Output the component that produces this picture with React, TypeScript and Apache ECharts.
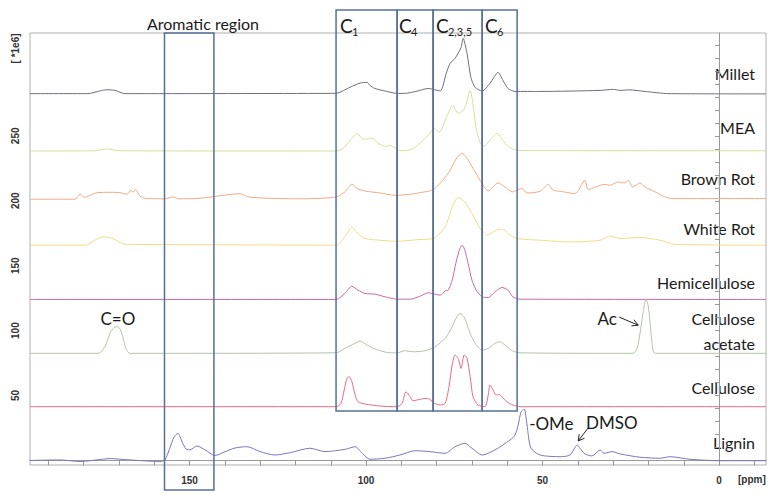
import React, { useEffect, useRef } from 'react';
import * as echarts from 'echarts';

// ---- data: [ppm, intensity (*1e6)] ----
const seriesNames = ['Millet', 'MEA', 'Brown Rot', 'White Rot', 'Hemicellulose', 'Cellulose acetate', 'Cellulose', 'Lignin'];
const seriesColors = ['#6e6e80', '#d4e09a', '#eeab86', '#f5da86', '#cc68a4', '#b0c5a8', '#e66a84', '#7878bc'];

const millet = [
  [195.2, 282.5], [178.8, 282.5], [175.4, 284.6], [173.4, 285.5], [171.1, 285], [168.3, 282.5],
  [110.2, 282.7], [108.2, 282.9], [104.5, 287.5], [101.7, 290.6], [99.7, 291.2], [98.9, 288.8],
  [97.5, 286.5], [94.6, 284.5], [91.2, 282.7], [89, 282.7], [85.3, 284.6], [82.4, 286.5], [81, 285.8],
  [79, 284.6], [77.3, 298], [76.2, 305.8], [74.8, 309.6], [73.1, 318], [72.5, 325], [71.4, 313.5],
  [70.3, 295], [69.1, 287.3], [67.1, 284.5], [64.9, 290.4], [62.6, 298.8], [61.2, 292.7], [59.8, 286.5],
  [57.8, 284.2], [50.7, 284.2], [33.7, 285], [30, 285.8], [28, 285], [25.5, 285.4], [21, 284.2],
  [14.2, 282.5], [-13.3, 282.3],
];

const mea = [
  [195.2, 238.3], [176.8, 238.5], [173.4, 240], [169.7, 238.5], [108.8, 238.3], [106.8, 239.6],
  [104.5, 246.5], [102.5, 251.9], [100.8, 247.3], [99.2, 248], [98.3, 248.3], [96.6, 244.2], [94.3, 241.9],
  [93.2, 242.7], [91.8, 240.8], [90.4, 238.5], [87, 239.6], [83.9, 246.5], [81.9, 251.9], [80.7, 255.8],
  [79.3, 252.9], [77.1, 265], [75.4, 273.5], [73.9, 267.3], [72.5, 269.6], [71.7, 274.2], [70.5, 285],
  [69.7, 273.5], [68.8, 255.8], [67.7, 245], [66.6, 241.9], [64.9, 246.5], [62.9, 251.9], [61.2, 246.5],
  [59.8, 241.9], [57.8, 239.2], [53.5, 238.6], [-13.3, 238.5],
];

const brownRot = [
  [195.2, 201.2], [182.4, 201.2], [181, 205.4], [179.9, 202.7], [178.8, 203.5], [176.2, 206.2],
  [172.5, 206.5], [169.7, 206.2], [167.7, 205], [166.6, 208.1], [166, 206.5], [165.4, 208.8], [164, 203.5],
  [162.6, 201.9], [156.9, 201.5], [154.7, 203], [153.3, 201.5], [147, 201.9], [135.7, 205.4], [132.9, 202.7],
  [118.7, 201.5], [108.5, 202.9], [106, 206.8], [104, 212.7], [102.5, 209.4], [100.3, 207.5], [96, 206],
  [91.8, 204.2], [87.5, 205], [83.3, 206.9], [81, 208.5], [78.5, 215], [76.2, 223.5], [74.2, 233.5],
  [72.8, 236.5], [71.4, 232.7], [69.7, 225], [67.7, 215.8], [65.4, 207.7], [62.6, 213.7], [60.6, 210.6],
  [58.6, 206.8], [56.9, 208.5], [55.8, 209.4], [54.4, 206], [50.7, 207.3], [48.4, 212.7], [47, 208.1],
  [45, 207.3], [40.8, 205.5], [38, 215.8], [37.1, 208.6], [35.1, 210.6], [32.3, 212.7], [30.9, 211.9],
  [28.6, 214.5], [26.6, 213.7], [25.8, 215.8], [24.4, 210.6], [22.4, 213.7], [21, 210.6], [18.1, 206.8],
  [15.3, 202.9], [13.3, 201.7], [-13.3, 201.7],
];

const whiteRot = [
  [195.2, 165.8], [179.6, 165.8], [176.8, 169.6], [174.5, 172.2], [172, 171.2], [168.3, 166.5],
  [147, 166.2], [108.5, 165.8], [106, 172.2], [104, 179.8], [102.5, 175.2], [100.3, 170.9], [96, 169.6],
  [91.2, 168.8], [84.7, 170.2], [81, 170.9], [77.6, 179.8], [75.6, 195.2], [73.9, 202.5], [72, 199.1],
  [70, 190.2], [67.7, 178.6], [65.7, 173.5], [63.5, 176.8], [62, 178.1], [60.6, 177.3], [59.2, 173.5],
  [57.2, 170.9], [50.7, 169.6], [42.2, 168.3], [33.7, 169.6], [30.9, 172.7], [28, 170.9], [22.4, 171.7],
  [16.7, 169.6], [12.5, 166.5], [-13.3, 165.8],
];

const hemicellulose = [
  [195.2, 124], [108.5, 124], [106, 128.6], [104, 134.2], [102.3, 131.2], [100.3, 128.6], [97.5, 128.1],
  [94.6, 126], [91.2, 124.2], [87.5, 124.2], [84.7, 126.5], [82.4, 129.1], [80.5, 128.1], [79, 127.3],
  [77.6, 130.5], [76.7, 131.2], [75.6, 138.8], [74.5, 152.7], [73.4, 163.5], [72.8, 165.8], [72, 161.9],
  [71.1, 151.9], [70, 138.8], [68.8, 131.2], [67.1, 126], [65.4, 125.5], [63.5, 129.8], [61.5, 133.2],
  [59.8, 131.2], [58.4, 126], [56.4, 124.2], [-13.3, 124],
];

const celluloseAcetate = [
  [195.2, 82.5], [175.9, 82.5], [173.9, 88.1], [172.5, 98.1], [171.4, 102.3], [170.5, 103.1], [169.7, 101.2],
  [168.8, 94.2], [168, 85.8], [166.9, 82.5], [108.5, 82.9], [106, 86.3], [103.1, 90.2], [101.7, 91.9],
  [99.7, 88.8], [96.6, 85], [93.2, 82.9], [91.2, 82.9], [89, 84.5], [86.7, 83.7], [83.3, 84.5], [80.5, 87.5],
  [77.6, 94], [75.6, 102.9], [74.5, 109.6], [73.4, 113.2], [72.2, 110.4], [70.5, 97.8], [69.1, 90.2],
  [67.1, 85], [65.4, 86.3], [63.5, 90.2], [62, 91.4], [60.6, 88.8], [58.6, 84.5], [56.4, 82.9], [24.4, 82.5],
  [23.2, 86.5], [22.4, 97.8], [21.5, 114.2], [20.7, 124], [20.1, 119.6], [19.5, 105.5], [19, 91.2],
  [18.1, 82.5], [-13.3, 82.5],
];

const cellulose = [
  [195.2, 41.4], [108.5, 41.4], [107.1, 44], [106.2, 54.2], [105.4, 63.2], [104.8, 64.5], [104, 60.6],
  [103.1, 50.4], [102.3, 45.2], [100.3, 43.5], [96, 41.9], [91.2, 41.4], [89.8, 44], [88.7, 52.9],
  [87.5, 49.1], [86.7, 46], [84.7, 47.1], [83.3, 47.8], [81.9, 47.1], [81, 44.5], [79, 42.7], [77.6, 44],
  [76.5, 56.8], [75.6, 73.5], [74.8, 81.2], [73.9, 78.6], [73.1, 70.9], [72.2, 81.2], [71.4, 78.6],
  [70.5, 64.5], [69.7, 49.1], [68.3, 42.7], [66.3, 41.4], [65.4, 50.4], [64.9, 58.1], [64, 54.2],
  [63.2, 50.4], [62.3, 50.9], [61.5, 49.1], [60.1, 45.2], [58.4, 42.7], [56.4, 41.4], [-13.3, 41.4],
];

const lignin = [
  [195.2, 0], [186.7, 0.4], [181, -0.8], [172.5, 1.4], [166.9, 0.4], [158.4, -0.8], [157, 0.4], [155.6, 9.4],
  [154.4, 18.1], [153.3, 20.9], [152.1, 14.2], [151, 8.8], [149.9, 8.1], [147.9, 11.2], [145.6, 8.1],
  [142.8, 3.8], [139.9, 6.8], [137.1, 9.6], [133.7, 10.6], [130, 6.8], [125.8, 4.2], [121.5, 6], [115.9, 9.4],
  [111.6, 6.8], [105.9, 8.6], [103.1, 10.6], [101.1, 5.5], [98.9, 0.9], [94.6, 1.7], [90.4, 4.2], [86.1, 7.5],
  [81.9, 6.8], [77.6, 5.5], [74.8, 10.6], [72, 13.2], [70, 9.4], [67.1, 4.2], [63.5, 8.1], [59.2, 15.8],
  [57.8, 19.6], [56.9, 27.3], [56.1, 37.3], [55.2, 39.6], [54.4, 27.3], [53.3, 9.6], [50.7, 4.2], [45, 2.9],
  [42.2, 4.2], [40.2, 11.9], [39.4, 9.4], [38, 5], [36, 3.5], [33.7, 8.1], [32.6, 5.5], [30.3, 6.8], [28, 5],
  [22.4, 2.5], [16.7, 1.7], [13.9, 2.9], [8.2, 0.9], [-0.3, -0.2], [-13.3, -0.2],
];

const allSeries = [millet, mea, brownRot, whiteRot, hemicellulose, celluloseAcetate, cellulose, lignin];

// boxes: [ppmLeft, ppmRight, top, bottom]
const boxes = [
  [157.1, 143.1, 329.2, -22.7],
  [108.5, 91.2, 347, 38],
  [91.2, 81, 347, 38],
  [81, 67.1, 347, 38],
  [67.1, 57.2, 347, 38],
];

const xTicks = [-10, 0, 10, 20, 30, 40, 50, 60, 70, 80, 90, 100, 110, 120, 130, 140, 150, 160, 170, 180, 190];
const xLabels = [0, 50, 100, 150];
const yTicks = [0, 10, 20, 30, 40, 50, 60, 70, 80, 90, 100, 110, 120, 130, 140, 150, 160, 170, 180, 190, 200, 210, 220, 230, 240, 250, 260, 270, 280, 290, 300, 310, 320];
const yLabels = [50, 100, 150, 200, 250];

// right-side sample labels: [text, ppm (right edge), value]
const sampleLabels: [string, number, number][] = [
  ['Millet', -10.2, 298.1],
  ['MEA', -10.2, 256.5],
  ['Brown Rot', -10.2, 217.3],
  ['White Rot', -10.2, 178.8],
  ['Hemicellulose', -10.2, 137.3],
  ['Cellulose', -10.2, 109.6],
  ['acetate', -10.2, 90.4],
  ['Cellulose', -10.2, 56.5],
  ['Lignin', -10.2, 13.5],
];

// box labels: [main, sub, ppm(left), value]
const boxLabels: [string, string, number, number][] = [
  ['C', '1', 107.4, 335],
  ['C', '4', 90.7, 335],
  ['C', '2,3,5', 80.2, 335],
  ['C', '6', 66.3, 335],
];

export default function App() {
  const ref = useRef<HTMLDivElement>(null);
  useEffect(() => {
    document.body.style.margin = '0';
    if (!ref.current) return;
    const chart = echarts.init(ref.current, undefined, { renderer: 'svg' });
    const axisFont = { fontFamily: 'Liberation Sans, Arial, sans-serif', fontSize: 10, fontWeight: 'bold' as const, color: '#333' };
    const lineSeries = allSeries.map((d, i) => ({
      name: seriesNames[i],
      type: 'line' as const,
      data: d,
      showSymbol: false,
      smooth: 0.25,
      lineStyle: { width: 1, color: seriesColors[i] },
      z: 2,
    }));
    chart.setOption({
      animation: false,
      grid: { left: 30, right: 10, top: 33, bottom: 36, show: true, borderColor: '#b0b0b0', borderWidth: 1, backgroundColor: 'transparent' },
      xAxis: {
        type: 'value', inverse: true, min: -13.3, max: 195.2,
        axisLine: { show: true, lineStyle: { color: '#999' } },
        axisTick: { show: true, customValues: xTicks, length: 5, lineStyle: { color: '#999' } },
        axisLabel: { show: true, customValues: xLabels, margin: 10, ...axisFont },
        splitLine: { show: false },
      },
      yAxis: {
        type: 'value', min: -3.5, max: 329.2,
        axisLine: { show: true, lineStyle: { color: '#999' } },
        axisTick: { show: true, customValues: yTicks, length: 4, lineStyle: { color: '#999' } },
        axisLabel: { show: true, customValues: yLabels, rotate: 90, margin: 10, ...axisFont },
        splitLine: { show: false },
      },
      series: [
        ...lineSeries,
        {
          type: 'custom',
          clip: false,
          z: 5,
          data: boxes,
          encode: { x: [0, 1], y: [2, 3] },
          renderItem: (params: any, api: any) => {
            const p1 = api.coord([api.value(0), api.value(2)]);
            const p2 = api.coord([api.value(1), api.value(3)]);
            return {
              type: 'rect',
              shape: { x: Math.min(p1[0], p2[0]), y: Math.min(p1[1], p2[1]), width: Math.abs(p2[0] - p1[0]), height: Math.abs(p2[1] - p1[1]) },
              style: { fill: 'none', stroke: '#56709a', lineWidth: 1.5 },
            };
          },
        },
      ],
    });

    const P = (ppm: number, v: number) => chart.convertToPixel({ gridIndex: 0 }, [ppm, v]) as number[];
    const labelFont = { fontFamily: 'Lato, sans-serif', fontSize: 16, fill: '#1a1a1a' };
    const graphics: any[] = [];
    sampleLabels.forEach(([t, ppm, v]) => {
      const [x, y] = P(ppm, v);
      graphics.push({ type: 'text', x, y, style: { text: t, ...labelFont, align: 'right', verticalAlign: 'middle' } });
    });
    boxLabels.forEach(([m, s, ppm, v]) => {
      const [x, y] = P(ppm, v);
      graphics.push({ type: 'text', x, y, style: { text: m, fontFamily: 'Lato, sans-serif', fontSize: 19, fill: '#1a1a1a', align: 'left', verticalAlign: 'middle' } });
      graphics.push({ type: 'text', x: x + 12, y: y + 6, style: { text: s, fontFamily: 'Lato, sans-serif', fontSize: 11, fill: '#1a1a1a', align: 'left', verticalAlign: 'middle' } });
    });
    const addText = (t: string, ppm: number, v: number, align: string, size = 16) => {
      const [x, y] = P(ppm, v);
      graphics.push({ type: 'text', x, y, style: { text: t, fontFamily: 'Lato, sans-serif', fontSize: size, fill: '#1a1a1a', align, verticalAlign: 'middle' } });
    };
    addText('Aromatic region', 146.2, 336.5, 'center');
    addText('C=O', 170.3, 109.6, 'center', 17);
    addText('Ac', 31.7, 109.6, 'center', 17);
    addText('-OMe', 53.8, 28.1, 'left', 17);
    addText('DMSO', 37.7, 29.6, 'left', 17);

    const arrow = (a: number[], b: number[]) => {
      const p0 = P(a[0], a[1]);
      const p1 = P(b[0], b[1]);
      const dx = p1[0] - p0[0], dy = p1[1] - p0[1];
      const len = Math.hypot(dx, dy);
      const ux = dx / len, uy = dy / len;
      const s = 6;
      const w1 = [p1[0] - s * ux - s * 0.55 * -uy, p1[1] - s * uy - s * 0.55 * ux];
      const w2 = [p1[0] - s * ux + s * 0.55 * -uy, p1[1] - s * uy + s * 0.55 * ux];
      graphics.push({ type: 'line', shape: { x1: p0[0], y1: p0[1], x2: p1[0], y2: p1[1] }, style: { stroke: '#222', lineWidth: 1 } });
      graphics.push({ type: 'polyline', shape: { points: [w1, p1, w2] }, style: { stroke: '#222', lineWidth: 1, fill: 'none' } });
    };
    arrow([28.3, 110.4], [22.9, 104.2]);
    arrow([37.1, 25], [39.9, 15]);

    const [ux, uy] = P(199.4, 317.3);
    graphics.push({ type: 'text', x: ux, y: uy, rotation: Math.PI / 2, style: { text: '[ *1e6]', fontFamily: 'Liberation Sans, Arial, sans-serif', fontSize: 10, fontWeight: 'bold', fill: '#333', align: 'center', verticalAlign: 'middle' } });
    const [px, py] = P(-9.3, -15);
    graphics.push({ type: 'text', x: px, y: py, style: { text: '[ppm]', fontFamily: 'Liberation Sans, Arial, sans-serif', fontSize: 10, fontWeight: 'bold', fill: '#333', align: 'center', verticalAlign: 'middle' } });

    chart.setOption({ graphic: graphics });
    return () => chart.dispose();
  }, []);
  return <div ref={ref} style={{ width: 776, height: 501 }} />;
}
